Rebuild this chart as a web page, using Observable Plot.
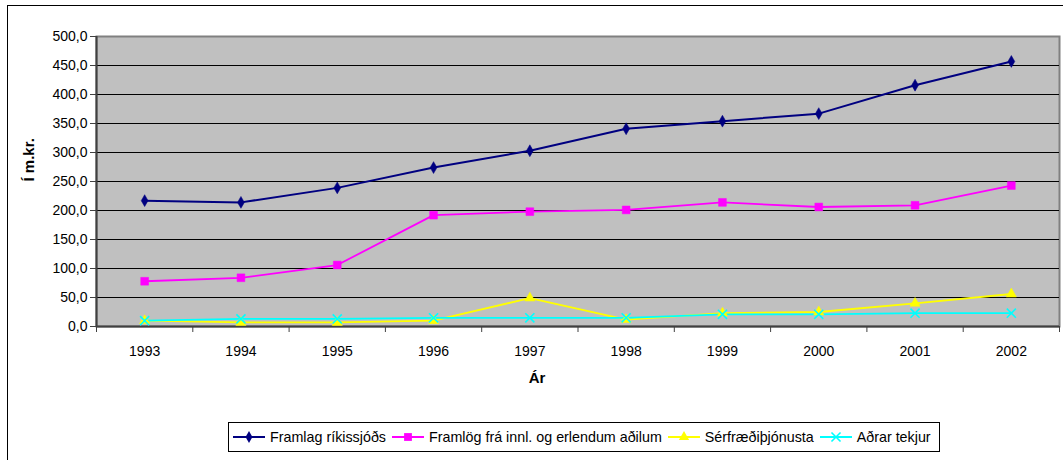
<!DOCTYPE html>
<html>
<head>
<meta charset="utf-8">
<script src="https://cdn.jsdelivr.net/npm/d3@7"></script>
<script src="https://cdn.jsdelivr.net/npm/@observablehq/plot@0.6"></script>
<style>
  html, body { margin: 0; padding: 0; background: #fff; overflow: hidden; }
  #wrap { position: relative; width: 1063px; height: 460px; overflow: hidden; font-family: "Liberation Sans", Arial, sans-serif; }
  #outer { position: absolute; left: 7px; top: 5px; width: 1100px; height: 500px; border: 1.5px solid #000; box-sizing: border-box; }
  #chart { position: absolute; left: 0; top: 0; }
  #legend { position: absolute; left: 228px; top: 422px; width: 712px; height: 30px; border: 1px solid #000; box-sizing: border-box;
            display: flex; align-items: center; padding-left: 4px; font-size: 14.3px; color: #000; white-space: nowrap; }
  .item { display: flex; align-items: center; margin-right: 6px; }
  .item svg { margin-right: 5px; }
</style>
</head>
<body>
<div id="wrap">
  <div id="outer"></div>
  <div id="chart"></div>
  <div id="legend"></div>
</div>
<script>
// ---- data ----
const years = [1993, 1994, 1995, 1996, 1997, 1998, 1999, 2000, 2001, 2002];
const seriesNames = ["Framlag ríkissjóðs", "Framlög frá innl. og erlendum aðilum", "Sérfræðiþjónusta", "Aðrar tekjur"];
const rikissjodur = [217, 214, 239, 274, 303, 341, 354, 367, 416, 457];
const innlErl     = [78, 84, 106, 192, 198, 201, 214, 206, 209, 243];
const serfraedi   = [10, 7, 7, 10, 49, 12, 23, 25, 40, 56];
const adrar       = [10, 13, 13, 15, 15, 15, 21, 21, 23, 23];
const yTicks = [0, 50, 100, 150, 200, 250, 300, 350, 400, 450, 500];
const yLabel = "Í m.kr.";
const xLabel = "Ár";

// ---- styles ----
const colors  = ["#000080", "#FF00FF", "#FFFF00", "#00FFFF"];
const symbols = ["diamond", "square", "triangle", "times"];
const radii   = [3.6, 4.4, 3.8, 4.2];

const allValues = [rikissjodur, innlErl, serfraedi, adrar];
const rows = [];
seriesNames.forEach((name, i) => years.forEach((yr, j) => rows.push({series: name, idx: i, year: yr, value: allValues[i][j]})));

const boundaries = years.map(y => y - 0.5).concat([years[years.length - 1] + 0.5]);
const fmt = d => d.toFixed(1).replace(".", ",");
const font = "'Liberation Sans', Arial, sans-serif";

const marks = [
  Plot.frame({fill: "#C0C0C0", stroke: "#808080", strokeWidth: 2}),
  Plot.ruleY(yTicks.slice(1, -1), {stroke: "#000", strokeWidth: 1}),
  Plot.ruleX([boundaries[0]], {stroke: "#404040", strokeWidth: 2}),
  Plot.ruleY([0], {stroke: "#404040", strokeWidth: 2}),
  Plot.axisY(yTicks, {tickSize: 6, tickPadding: 3, tickFormat: fmt, fontSize: 14, label: null, stroke: "#404040"}),
  Plot.axisX(boundaries, {tickSize: 6, tickFormat: () => "", label: null, stroke: "#404040"}),
  Plot.axisX(years, {tickSize: 0, tickPadding: 20, tickFormat: d => String(d), fontSize: 14, label: null}),
  Plot.text([yLabel], {frameAnchor: "left", rotate: -90, dx: -67, fontWeight: "bold", fontSize: 15}),
  Plot.text([xLabel], {frameAnchor: "bottom", dx: -41, dy: 56, fontWeight: "bold", fontSize: 15}),
];
seriesNames.forEach((name, i) => {
  const d = rows.filter(r => r.idx === i);
  marks.push(Plot.line(d, {x: "year", y: "value", stroke: colors[i], strokeWidth: i === 0 ? 2 : 1.8}));
});
seriesNames.forEach((name, i) => {
  const d = rows.filter(r => r.idx === i);
  const opts = {x: "year", y: "value", symbol: () => symbols[i], r: radii[i]};
  if (symbols[i] === "times") Object.assign(opts, {stroke: colors[i], fill: "none", strokeWidth: 1.6});
  else Object.assign(opts, {fill: colors[i], stroke: colors[i], strokeWidth: 0.5});
  marks.push(Plot.dot(d, opts));
});

const chart = Plot.plot({
  width: 1063,
  height: 400,
  marginLeft: 96,
  marginRight: 4,
  marginTop: 36,
  marginBottom: 74,
  style: {fontFamily: font, fontSize: "14px", background: "transparent", color: "#000"},
  x: {type: "linear", domain: [boundaries[0], boundaries[boundaries.length - 1]], axis: null},
  y: {domain: [0, 500], axis: null},
  symbol: {type: "ordinal", domain: symbols, range: symbols},
  marks
});
document.getElementById("chart").appendChild(chart);

// legend
const legend = document.getElementById("legend");
seriesNames.forEach((name, i) => {
  const item = document.createElement("div");
  item.className = "item";
  const svg = d3.create("svg").attr("width", 32).attr("height", 14);
  svg.append("line").attr("x1", 0).attr("x2", 32).attr("y1", 7).attr("y2", 7).attr("stroke", colors[i]).attr("stroke-width", 2);
  const symMap = {diamond: d3.symbolDiamond, square: d3.symbolSquare, triangle: d3.symbolTriangle, times: d3.symbolTimes};
  const path = svg.append("path").attr("transform", "translate(16,7)")
    .attr("d", d3.symbol(symMap[symbols[i]], Math.PI * radii[i] * radii[i])());
  if (symbols[i] === "times") path.attr("fill", "none").attr("stroke", colors[i]).attr("stroke-width", 1.6);
  else path.attr("fill", colors[i]);
  item.appendChild(svg.node());
  const span = document.createElement("span");
  span.textContent = name;
  item.appendChild(span);
  legend.appendChild(item);
});
</script>
</body>
</html>
